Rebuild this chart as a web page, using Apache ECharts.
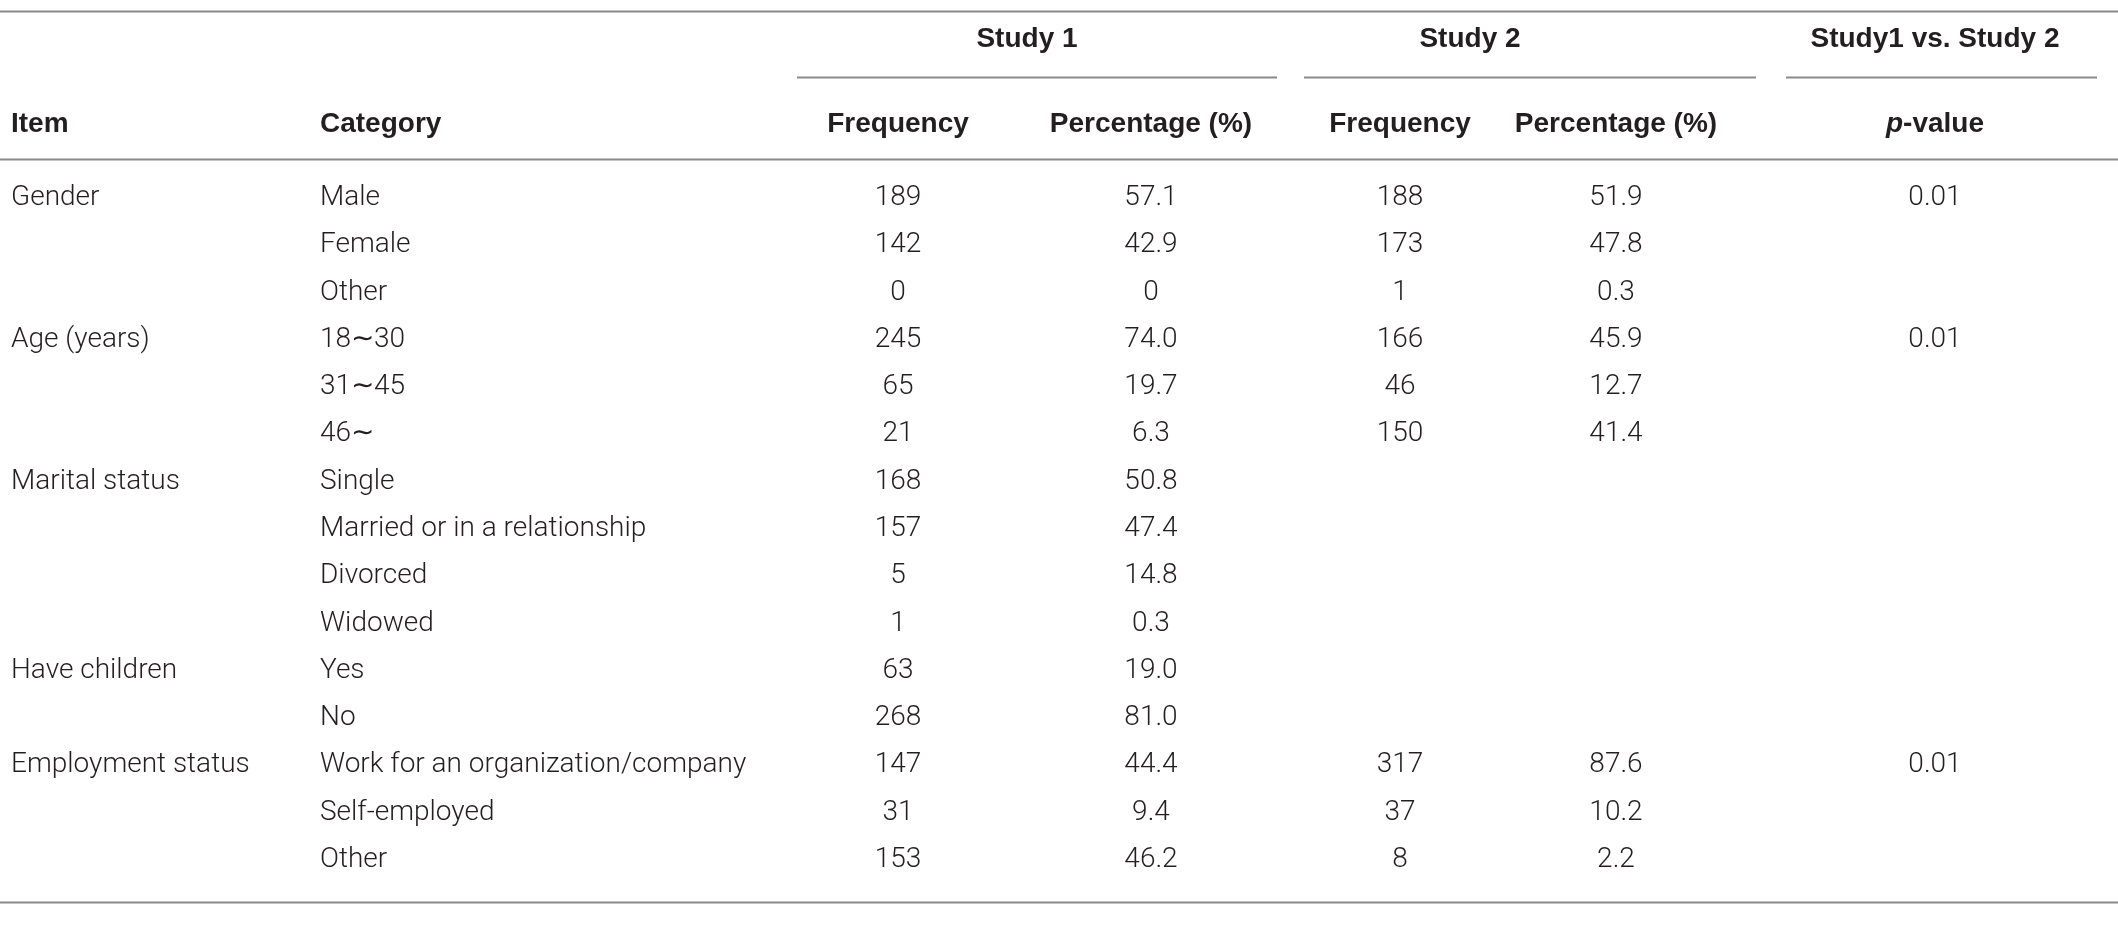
<!DOCTYPE html>
<html>
<head>
<meta charset="utf-8">
<script src="https://cdn.jsdelivr.net/npm/echarts@6/dist/echarts.min.js"></script>
<style>
html,body{margin:0;padding:0;background:#fff;}
#chart{width:2118px;height:945px;}
</style>
</head>
<body>
<div id="chart"></div>
<script>
// ---- Data ----
const items = ["Gender", "", "", "Age (years)", "", "", "Marital status", "", "", "", "Have children", "", "Employment status", "", ""];
const categories = ["Male", "Female", "Other", "18\u223C30", "31\u223C45", "46\u223C", "Single", "Married or in a relationship", "Divorced", "Widowed", "Yes", "No", "Work for an organization/company", "Self-employed", "Other"];
const study1Freq = ["189", "142", "0", "245", "65", "21", "168", "157", "5", "1", "63", "268", "147", "31", "153"];
const study1Pct = ["57.1", "42.9", "0", "74.0", "19.7", "6.3", "50.8", "47.4", "14.8", "0.3", "19.0", "81.0", "44.4", "9.4", "46.2"];
const study2Freq = ["188", "173", "1", "166", "46", "150", "", "", "", "", "", "", "317", "37", "8"];
const study2Pct = ["51.9", "47.8", "0.3", "45.9", "12.7", "41.4", "", "", "", "", "", "", "87.6", "10.2", "2.2"];
const pValues = ["0.01", "", "", "0.01", "", "", "", "", "", "", "", "", "0.01", "", ""];
const groupHeaders = ["Study 1", "Study 2", "Study1 vs. Study 2"];
const columnHeaders = ["Item", "Category", "Frequency", "Percentage (%)", "Frequency", "Percentage (%)", "p-value"];

// ---- Layout (x in pixels along value axis, y in row units) ----
const colX = [11, 320, 898, 1151, 1400, 1616, 1935];
const colAlign = ['left', 'left', 'center', 'center', 'center', 'center', 'center'];
const groupX = [1027, 1470, 1935];
const groupLines = [[797, 1277], [1304, 1756], [1786, 2097]];
const Y_GROUP = -3.26, Y_GROUP_LINE = -2.47, Y_HEAD = -1.48, Y_HEAD_LINE = -0.74, Y_TOP = -3.87, Y_BOTTOM = 14.97;

const BODY_FONT = 'Roboto, "Liberation Sans", Arial, sans-serif';
const HEAD_FONT = '"Liberation Sans", Arial, Helvetica, sans-serif';
const TEXT_COLOR = '#231f20';
const FS = 28;
const BODY_FS = 28;
const BODY_DY = 4;

const columns = [items, categories, study1Freq, study1Pct, study2Freq, study2Pct, pValues];

const cellData = [];
for (let r = 0; r < categories.length; r++) {
  for (let c = 0; c < columns.length; c++) {
    const t = columns[c][r];
    if (t !== '' && t != null) cellData.push([colX[c], r, t, colAlign[c]]);
  }
}
const headerData = [];
columnHeaders.forEach((h, c) => headerData.push([colX[c], Y_HEAD, h, colAlign[c]]));
groupHeaders.forEach((h, g) => headerData.push([groupX[g], Y_GROUP, h, 'center']));

const ruleData = [
  [0, 2118, Y_TOP],
  [0, 2118, Y_HEAD_LINE],
  [0, 2118, Y_BOTTOM]
];
groupLines.forEach(l => ruleData.push([l[0], l[1], Y_GROUP_LINE]));

const chart = echarts.init(document.getElementById('chart'), null, {renderer: 'canvas'});
chart.setOption({
  animation: false,
  backgroundColor: '#fff',
  grid: {left: 0, right: 0, top: 0, bottom: 0},
  xAxis: {type: 'value', min: 0, max: 2118, show: false},
  yAxis: {type: 'value', min: -4.1, max: 15.88, inverse: true, show: false},
  series: [
    {
      type: 'custom',
      name: 'rules',
      data: ruleData,
      renderItem: function (params, api) {
        const p1 = api.coord([api.value(0), api.value(2)]);
        const p2 = api.coord([api.value(1), api.value(2)]);
        return {
          type: 'line',
          shape: {x1: p1[0], y1: Math.round(p1[1]) + 0.5, x2: p2[0], y2: Math.round(p2[1]) + 0.5},
          style: {stroke: '#8a8a8a', lineWidth: 2}
        };
      }
    },
    {
      type: 'custom',
      name: 'cells',
      data: cellData,
      dimensions: ['x', 'y', 'text', 'align'],
      encode: {x: 0, y: 1},
      renderItem: function (params, api) {
        const d = cellData[params.dataIndex];
        const p = api.coord([d[0], d[1]]);
        return {
          type: 'text',
          x: p[0], y: p[1] + BODY_DY,
          style: {
            text: d[2], textAlign: d[3], textVerticalAlign: 'middle',
            font: '300 ' + BODY_FS + 'px ' + BODY_FONT, fill: TEXT_COLOR
          }
        };
      }
    },
    {
      type: 'custom',
      name: 'headers',
      data: headerData,
      dimensions: ['x', 'y', 'text', 'align'],
      encode: {x: 0, y: 1},
      renderItem: function (params, api) {
        const d = headerData[params.dataIndex];
        const p = api.coord([d[0], d[1]]);
        if (d[2] === 'p-value') {
          return {
            type: 'text',
            x: p[0], y: p[1],
            style: {
              text: '{i|p}{b|-value}',
              rich: {
                i: {fontStyle: 'italic', fontWeight: 'bold', fontSize: FS, fontFamily: HEAD_FONT, fill: TEXT_COLOR, color: TEXT_COLOR},
                b: {fontWeight: 'bold', fontSize: FS, fontFamily: HEAD_FONT, fill: TEXT_COLOR, color: TEXT_COLOR}
              },
              textAlign: 'center', textVerticalAlign: 'middle',
              align: 'center', verticalAlign: 'middle'
            }
          };
        }
        return {
          type: 'text',
          x: p[0], y: p[1],
          style: {
            text: d[2], textAlign: d[3], textVerticalAlign: 'middle',
            font: 'bold ' + FS + 'px ' + HEAD_FONT, fill: TEXT_COLOR
          }
        };
      }
    }
  ]
});
</script>
</body>
</html>
